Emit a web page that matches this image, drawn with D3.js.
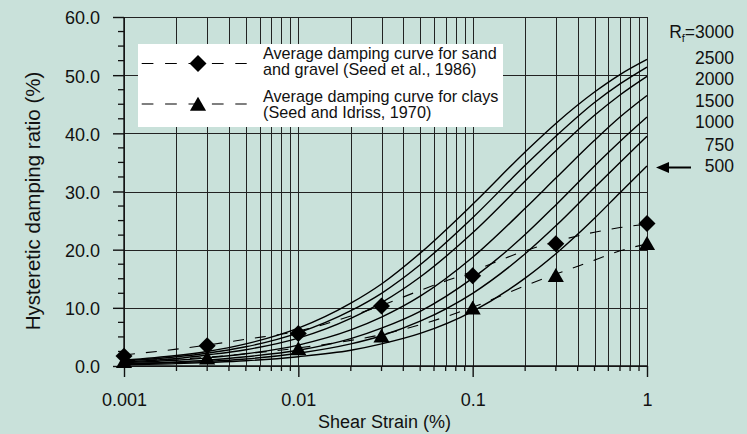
<!DOCTYPE html>
<html>
<head>
<meta charset="utf-8">
<script src="https://cdn.jsdelivr.net/npm/d3@7"></script>
<style>
  html, body { margin: 0; padding: 0; background: #c9e1da; }
  svg { display: block; font-family: "Liberation Sans", Arial, sans-serif; }
</style>
</head>
<body>
<svg id="chart" width="747" height="434"></svg>
<script>
// ---- data ----
const strains = [0.001, 0.002, 0.003, 0.005, 0.01, 0.02, 0.03, 0.05, 0.1, 0.2, 0.3, 0.5, 0.7, 1];
const rfLabels = ["3000", "2500", "2000", "1500", "1000", "750", "500"];
const d3000 = [1.0, 1.8, 2.5, 3.8, 6.5, 10.8, 14.1, 19.4, 27.8, 36.8, 41.7, 47.1, 50.1, 52.7];
const d2500 = [0.9, 1.6, 2.2, 3.3, 5.7, 9.5, 12.5, 17.4, 25.5, 34.5, 39.5, 45.3, 48.5, 51.4];
const d2000 = [0.7, 1.3, 1.9, 2.8, 4.8, 8.2, 10.9, 15.3, 22.9, 31.8, 37.0, 43.1, 46.6, 49.8];
const d1500 = [0.6, 1.0, 1.4, 2.1, 3.6, 6.2, 8.4, 12.0, 18.7, 27.1, 32.3, 38.8, 42.8, 46.5];
const d1000 = [0.4, 0.7, 1.0, 1.6, 2.7, 4.7, 6.5, 9.4, 15.1, 22.6, 27.7, 34.4, 38.6, 42.8];
const d750  = [0.3, 0.6, 0.8, 1.2, 2.2, 3.8, 5.2, 7.7, 12.5, 19.3, 24.1, 30.7, 35.0, 39.5];
const d500  = [0.2, 0.4, 0.6, 0.9, 1.6, 2.7, 3.8, 5.6, 9.4, 15.1, 19.3, 25.4, 29.8, 34.4];

const markerStrains = [0.001, 0.003, 0.01, 0.03, 0.1, 0.3, 1];
const sandPoints = [1.7, 3.5, 5.6, 10.3, 15.5, 21.0, 24.5];
const clayPoints = [0.8, 1.4, 3.0, 5.2, 10.0, 15.6, 21.1];

const fitStrains = [0.001, 0.002, 0.003, 0.005, 0.01, 0.02, 0.03, 0.05, 0.1, 0.2, 0.3, 0.5, 0.7, 1];
const sandFit = [1.9, 2.9, 3.6, 4.6, 6.0, 8.6, 10.4, 13.0, 16.3, 19.8, 21.4, 23.0, 23.8, 24.4];
const clayFit = [0.9, 1.2, 1.5, 2.1, 3.1, 4.4, 5.4, 7.1, 10.1, 13.8, 15.8, 18.2, 19.8, 21.0];

const yTicks = [0, 10, 20, 30, 40, 50, 60];
const xTicks = [0.001, 0.01, 0.1, 1];
const legendLabels = [
  ["Average damping curve for sand", "and gravel (Seed et al., 1986)"],
  ["Average damping curve for clays", "(Seed and Idriss, 1970)"]
];

// ---- layout ----
const svg = d3.select("#chart");
const x = d3.scaleLog().domain([0.001, 1]).range([124, 647]);
const y = d3.scaleLinear().domain([0, 60]).range([366, 17]);
const ink = "#111";

// gridlines
const minorX = [];
[0.001, 0.01, 0.1].forEach(d => { for (let k = 1; k <= 9; k++) minorX.push(+(d * k).toPrecision(3)); });
minorX.push(1);

const grid = svg.append("g").attr("shape-rendering", "crispEdges");
grid.selectAll("line.v").data(minorX).join("line")
  .attr("x1", d => Math.round(x(d)) + 0.5).attr("x2", d => Math.round(x(d)) + 0.5)
  .attr("y1", y(60)).attr("y2", y(0))
  .attr("stroke", "#222").attr("stroke-width", 1);
grid.selectAll("line.h").data(yTicks).join("line")
  .attr("x1", x(0.001)).attr("x2", x(1))
  .attr("y1", d => Math.round(y(d)) + 0.5).attr("y2", d => Math.round(y(d)) + 0.5)
  .attr("stroke", "#222").attr("stroke-width", 1);

// axes
const fs = 18;
const yAxis = svg.append("g").attr("transform", `translate(${x(0.001)},0)`)
  .call(d3.axisLeft(y).tickValues(yTicks).tickSize(11).tickPadding(13).tickFormat(d3.format(".1f")));
const xAxis = svg.append("g").attr("transform", `translate(0,${y(0)})`)
  .call(d3.axisBottom(x).tickValues(xTicks).tickSize(11).tickPadding(16).tickFormat(d3.format("~g")));
[yAxis, xAxis].forEach(a => {
  a.select(".domain").attr("stroke", ink).attr("stroke-width", 1.4);
  a.selectAll(".tick line").attr("stroke", ink).attr("stroke-width", 1.4);
  a.selectAll("text").attr("font-size", fs).attr("fill", "#111").attr("font-family", "Liberation Sans, Arial, sans-serif");
});
yAxis.selectAll("text").attr("dy", "0.38em");
xAxis.select(".domain").attr("d", `M${x(0.001)},0H${x(1)}`);
yAxis.select(".domain").attr("d", `M0,${y(0)}V${y(60)}`);

// minor ticks
const yMinor = d3.range(0, 60.01, 2.5).filter(v => v % 10 !== 0);
svg.append("g").selectAll("line").data(yMinor).join("line")
  .attr("x1", x(0.001) - 6).attr("x2", x(0.001))
  .attr("y1", d => y(d)).attr("y2", d => y(d))
  .attr("stroke", ink).attr("stroke-width", 1.3);
svg.append("g").selectAll("line").data(minorX.filter(d => !xTicks.includes(d))).join("line")
  .attr("x1", d => x(d)).attr("x2", d => x(d))
  .attr("y1", y(0)).attr("y2", y(0) + 5)
  .attr("stroke", ink).attr("stroke-width", 1.3);

// axis titles
svg.append("text").attr("x", x(0.03) + 3).attr("y", 428)
  .attr("text-anchor", "middle").attr("font-size", 18).attr("fill", "#111")
  .text("Shear Strain (%)");
svg.append("text").attr("transform", `translate(40,201) rotate(-90)`)
  .attr("text-anchor", "middle").attr("font-size", 20.5).attr("fill", "#111")
  .text("Hysteretic damping ratio (%)");

// damping curves
const curves = [d3000, d2500, d2000, d1500, d1000, d750, d500];
const line = d3.line().x((d, i) => x(strains[i])).y(d => y(d)).curve(d3.curveMonotoneX);
svg.append("g").selectAll("path").data(curves).join("path")
  .attr("d", line).attr("fill", "none").attr("stroke", "#000").attr("stroke-width", 1.4);

// fitted dashed averages
const fitLine = d3.line().x((d, i) => x(fitStrains[i])).y(d => y(d)).curve(d3.curveMonotoneX);
svg.append("g").selectAll("path").data([sandFit, clayFit]).join("path")
  .attr("d", fitLine).attr("fill", "none").attr("stroke", "#000").attr("stroke-width", 1.1)
  .attr("stroke-dasharray", "11,11");

// markers
const diamond = d3.symbol(d3.symbolSquare, 144)();
const tri = d3.symbol(d3.symbolTriangle, 113)();
svg.append("g").selectAll("path").data(sandPoints).join("path")
  .attr("d", diamond)
  .attr("transform", (d, i) => `translate(${x(markerStrains[i])},${y(d)}) rotate(45)`)
  .attr("fill", "#000");
svg.append("g").selectAll("path").data(clayPoints).join("path")
  .attr("d", tri)
  .attr("transform", (d, i) => `translate(${x(markerStrains[i])},${y(d) + 2})`)
  .attr("fill", "#000");

// legend
const lg = svg.append("g");
lg.append("rect").attr("x", 138).attr("y", 44).attr("width", 365).attr("height", 83).attr("fill", "#fff");
const rows = [{ y: 63.5, sym: diamond, rot: 45 }, { y: 104, sym: tri, rot: 0 }];
rows.forEach((r, i) => {
  lg.append("line").attr("x1", 141.7).attr("x2", 246.7).attr("y1", r.y).attr("y2", r.y)
    .attr("stroke", "#000").attr("stroke-width", 1.1).attr("stroke-dasharray", "11.7,11.7");
  lg.append("path").attr("d", r.sym)
    .attr("transform", `translate(198,${r.y + (i === 1 ? 2 : 0)}) rotate(${r.rot})`).attr("fill", "#000");
  const t = lg.append("text").attr("x", 263).attr("font-size", 16.2).attr("fill", "#111");
  t.append("tspan").attr("x", 263).attr("y", i === 0 ? 58.5 : 101.5).text(legendLabels[i][0]);
  t.append("tspan").attr("x", 263).attr("y", i === 0 ? 75 : 118).text(legendLabels[i][1]);
});

// Rf labels
const labY = [38, 64, 85, 106.5, 128, 150.5, 171.5];
const rl = svg.append("g").attr("font-size", 17.5).attr("fill", "#111").attr("text-anchor", "end");
rfLabels.forEach((lab, i) => {
  const t = rl.append("text").attr("x", 734).attr("y", labY[i]);
  if (i === 0) {
    t.append("tspan").text("R");
    t.append("tspan").attr("font-size", 11).attr("dy", 4).text("f");
    t.append("tspan").attr("dy", -4).text("=" + lab);
  } else {
    t.text(lab);
  }
});

// arrow pointing to the Rf=500 curve
const ay = 167.5;
svg.append("line").attr("x1", 667).attr("x2", 691).attr("y1", ay).attr("y2", ay)
  .attr("stroke", "#000").attr("stroke-width", 2);
svg.append("path").attr("d", d3.line()([[656, ay], [669, ay - 5.5], [669, ay + 5.5]])).attr("fill", "#000");
</script>
</body>
</html>
